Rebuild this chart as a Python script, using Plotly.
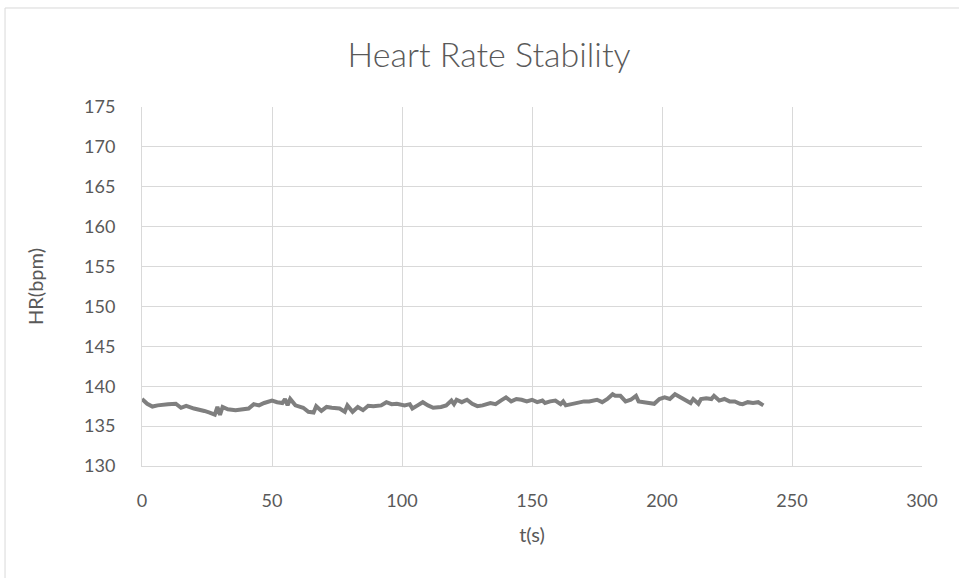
import plotly.graph_objects as go

# Heart rate samples over the recording (seconds, beats per minute)
t_s = [0, 2, 4, 6, 10, 13, 15, 17, 20, 22, 24, 26, 28, 29, 30, 31, 33, 36, 38, 41, 43, 45, 47,
       50, 52, 54, 55, 56, 57, 59, 62, 64, 66, 67, 69, 71, 73, 76, 78, 79, 81, 83, 85, 87, 89, 92, 94,
       96, 98, 101, 103, 104, 106, 108, 110, 112, 115, 117, 119, 120, 121, 123, 125, 127, 129, 131,
       134, 136, 138, 140, 142, 144, 146, 148, 150, 152, 154, 155, 157, 159, 161, 162, 163, 165, 167,
       170, 172, 175, 177, 179, 181, 182, 184, 186, 188, 190, 191, 193, 195, 197, 199, 201, 203, 205,
       207, 209, 211, 212, 214, 215, 217, 219, 220, 222, 224, 226, 228, 230, 231, 233, 235, 237, 239]
hr_bpm = [138.4, 137.8, 137.45, 137.6, 137.75, 137.8, 137.3, 137.55, 137.2, 137.1, 136.9, 136.7,
          136.45, 137.4, 136.4, 137.4, 137.1, 137.0, 137.1, 137.2, 137.75, 137.6, 137.9,
          138.2, 138.0, 137.9, 138.4, 137.6, 138.4, 137.6, 137.3, 136.8, 136.7, 137.5, 136.9, 137.4,
          137.3, 137.2, 136.8, 137.6, 136.8, 137.4, 137.0, 137.55, 137.5, 137.6, 138.0,
          137.75, 137.8, 137.6, 137.75, 137.2, 137.6, 138.0, 137.6, 137.3, 137.4, 137.6, 138.2, 137.75,
          138.3, 138.0, 138.3, 137.8, 137.5, 137.6,
          137.9, 137.75, 138.2, 138.6, 138.1, 138.4, 138.3, 138.1, 138.3, 138.0, 138.2, 137.9, 138.1,
          138.2, 137.75, 138.1, 137.6, 137.75, 138.0,
          138.1, 138.1, 138.3, 138.0, 138.4, 139.0, 138.8, 138.8, 138.1, 138.3, 138.8, 138.1, 137.95,
          137.9, 137.8, 138.4, 138.6, 138.4, 139.0,
          138.6, 138.3, 137.9, 138.4, 137.8, 138.4, 138.5, 138.4, 138.8, 138.2, 138.4, 138.1, 138.1,
          137.8, 137.75, 138.0, 137.9, 138.0, 137.6]

x_ticks = [0, 50, 100, 150, 200, 250, 300]
y_ticks = [130, 135, 140, 145, 150, 155, 160, 165, 170, 175]

TEXT = "#595959"
GRID = "#d9d9d9"
FONT = "Lato"

fig = go.Figure()
fig.add_trace(go.Scatter(
    x=t_s, y=hr_bpm, mode="lines",
    line=dict(color="#7f7f7f", width=4),
    showlegend=False, hoverinfo="x+y",
))

# Outer chart frame
fig.add_shape(type="rect", xref="paper", yref="paper",
              x0=-0.1756, x1=1.2, y0=-0.5, y1=1.2758,
              line=dict(color=GRID, width=1), layer="below")

fig.update_layout(
    width=959, height=578,
    margin=dict(l=142, r=37, t=107, b=112),
    paper_bgcolor="white", plot_bgcolor="white",
    font=dict(family=FONT, color=TEXT, size=18),
    title=dict(text="Heart Rate Stability", x=0.51, xanchor="center",
               y=1 - 55 / 578, yanchor="middle", yref="container",
               font=dict(size=34, color=TEXT, family=FONT, weight=300)),
    xaxis=dict(range=[0, 300], tickvals=x_ticks, showgrid=True, gridcolor=GRID, gridwidth=1,
               zeroline=False, showline=True, linecolor=GRID, linewidth=1, mirror=False,
               ticks="", ticklabelstandoff=18,
               title=dict(text="t(s)", standoff=18, font=dict(size=20, color=TEXT))),
    yaxis=dict(range=[130, 175], tickvals=y_ticks, showgrid=True, gridcolor=GRID, gridwidth=1,
               zeroline=False, showline=True, linecolor=GRID, linewidth=1,
               ticks="", ticklabelstandoff=22,
               title=dict(text="HR(bpm)", standoff=35, font=dict(size=20, color=TEXT))),
)

fig.write_html("out.html")
